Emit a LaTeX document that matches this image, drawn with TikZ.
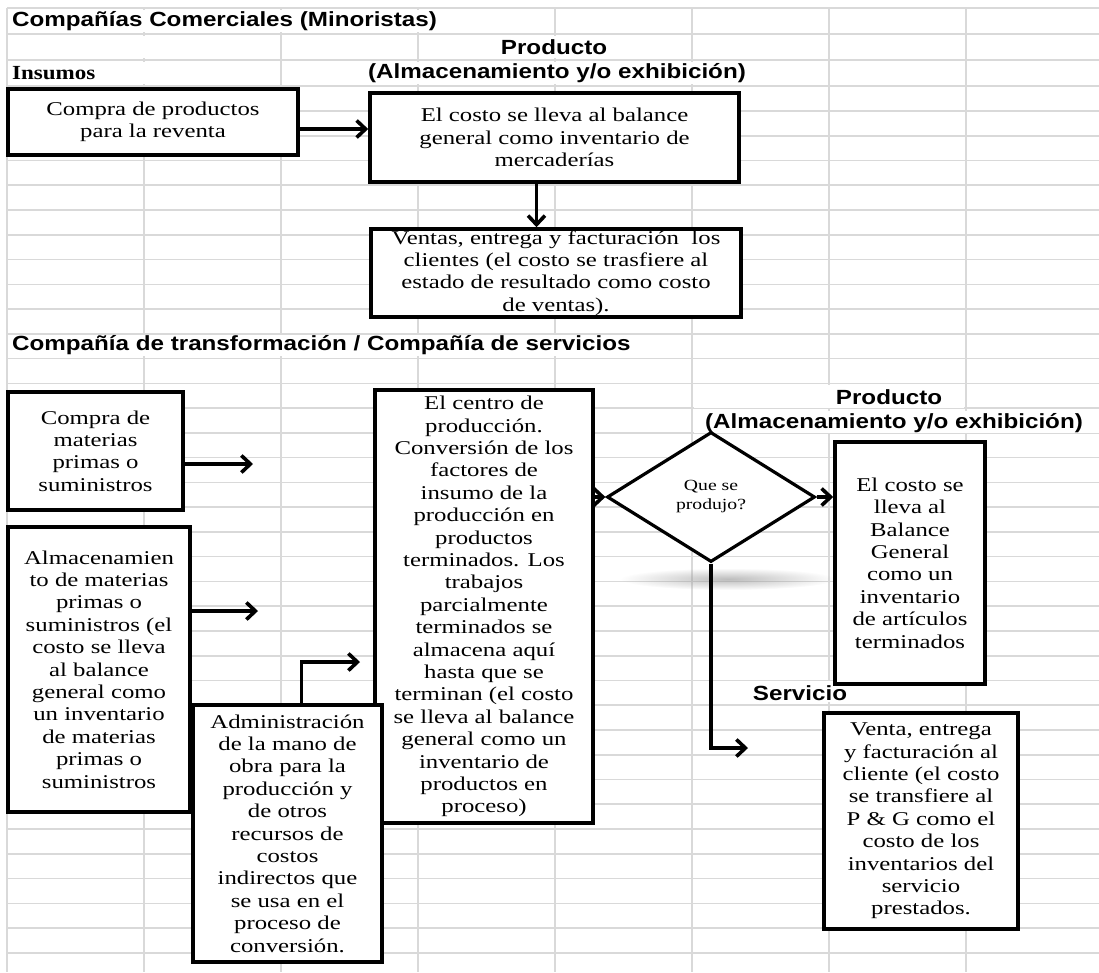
\documentclass[tikz,border=0pt]{standalone}
\usepackage{fontspec}
\setmainfont{Liberation Serif}[FakeStretch=1.27]
\newfontfamily\headfont{Liberation Sans}[FakeStretch=1.18]
\newfontfamily\labelfont{Liberation Serif}[FakeStretch=1.15]
\usetikzlibrary{arrows.meta,positioning,calc,shapes.geometric,fadings}
\tikzfading[name=softshadow, inner color=transparent!35, outer color=transparent!100]

\begin{document}
\begin{tikzpicture}[x=1pt, y=-1pt,
    cell/.style={gray!30, line width=1.6pt},
    mask/.style={white},
    box/.style={draw, line width=3.6pt, fill=white, align=center, inner sep=0pt,
        font=\fontsize{19.5}{22.4}\selectfont},
    head/.style={inner sep=0pt, font=\headfont\bfseries\fontsize{20.5}{24}\selectfont},
    arr/.style={line width=3.6pt, -{Straight Barb[length=9pt, width=17pt]}}]

    \useasboundingbox (0,0) rectangle (1099,972);

    % sheet grid
    \foreach \x in {7,144,...,966}
        \draw[cell] (\x,8) -- (\x,972);
    \foreach \y in {8,34,60,86}
        \draw[cell] (7,\y) -- (1099,\y);
    \foreach \k in {0,...,34}
        \draw[cell] (7,{111+24.76*\k}) -- (1099,{111+24.76*\k});

    % merged cells
    \fill[mask] (9,10) rectangle (553,32);
    \fill[mask] (9,36) rectangle (279,58);
    \fill[mask] (9,62) rectangle (279,84);
    \fill[mask] (420,36) rectangle (690,58);
    \fill[mask] (283,62) rectangle (827,84);
    \fill[mask] (9,335) rectangle (690,356);
    \fill[mask] (694,385) rectangle (964,408);
    \fill[mask] (694,411) rectangle (1099,433);
    \fill[mask] (694,681) rectangle (964,702);

    % headings
    \node[head, anchor=west] (title1) at (12,21) {Compañías Comerciales (Minoristas)};
    \node[head] (prod1) at (554,47) {Producto};
    \node[head] (store1) at (557,73) {(Almacenamiento y/o exhibición)};
    \node[anchor=west, inner sep=0pt, font=\labelfont\bfseries\fontsize{20}{22}\selectfont] (inputs) at (12,73) {Insumos};
    \node[head, anchor=west] (title2) at (12,345) {Compañía de transformación / Compañía de servicios};
    \node[head] (prod2) at (889,397) {Producto};
    \node[head] (store2) at (894,423) {(Almacenamiento y/o exhibición)};
    \node[head] (svc) at (800,693) {Servicio};

    % shadow under the decision
    \fill[black!40, path fading=softshadow] (728,579) ellipse (108 and 11);

    % retail flow
    \node[box, minimum width=290pt, minimum height=66pt] (buy) at (153,122)
        {Compra de productos\\para la reventa};
    \node[box, minimum width=369pt, minimum height=89pt] (inv) at (554.5,137.5)
        {El costo se lleva al balance\\general como inventario de\\mercaderías};
    \node[box, minimum width=370pt, minimum height=88pt] (sale) at (556,273)
        {Ventas, entrega y facturación\ \ los\\clientes (el costo se trasfiere al\\estado de resultado como costo\\de ventas).};

    \coordinate (buyout) at ([yshift=-7pt]buy.east);
    \draw[arr] (buyout) -- (buyout -| inv.west);
    \coordinate (invout) at ([xshift=-18pt]inv.south);
    \draw[arr] (invout) -- (invout |- sale.north);

    % manufacturing / service flow
    \node[box, minimum width=175pt, minimum height=118pt] (rawbuy) at (95.5,451)
        {Compra de\\materias\\primas o\\suministros};
    \node[box, minimum width=182pt, minimum height=285pt] (rawstore) at (99,669.5)
        {Almacenamien\\to de materias\\primas o\\suministros (el\\costo se lleva\\al balance\\general como\\un inventario\\de materias\\primas o\\suministros};
    \node[box, minimum width=218pt, minimum height=433pt] (plant) at (484,606.5)
        {El centro de\\producción.\\Conversión de los\\factores de\\insumo de la\\producción en\\productos\\terminados. Los\\trabajos\\parcialmente\\terminados se\\almacena aquí\\hasta que se\\terminan (el costo\\se lleva al balance\\general como un\\inventario de\\productos en\\proceso)};
    \node[box, minimum width=189pt, minimum height=257pt] (labor) at (287.5,833.5)
        {Administración\\de la mano de\\obra para la\\producción y\\de otros\\recursos de\\costos\\indirectos que\\se usa en el\\proceso de\\conversión.};
    \node[box, shape=diamond, minimum width=208pt, minimum height=130pt, line width=3.2pt,
        font=\fontsize{15.5}{19}\selectfont] (decide) at (711,497) {Que se\\produjo?};
    \node[box, minimum width=150pt, minimum height=242pt] (goods) at (910,563)
        {El costo se\\lleva al\\Balance\\General\\como un\\inventario\\de artículos\\terminados};
    \node[box, minimum width=194pt, minimum height=216pt] (service) at (921,821)
        {Venta, entrega\\y facturación al\\cliente (el costo\\se transfiere al\\P \& G como el\\costo de los\\inventarios del\\servicio\\prestados.};

    \coordinate (rawbuyend) at (253,464);
    \draw[arr] (rawbuyend -| rawbuy.east) -- (rawbuyend);
    \coordinate (rawstoreend) at (258,611);
    \draw[arr] (rawstoreend -| rawstore.east) -- (rawstoreend);
    \coordinate (laborout) at ([xshift=14pt]labor.north);
    \coordinate (laborend) at (360,662);
    \draw[arr] (laborout) |- (laborend);
    \draw[arr] (decide.west -| plant.east) -- (decide.west);
    \draw[arr] (decide.east) -- (decide.east -| goods.west);
    \coordinate (serviceend) at (748,748);
    \draw[arr] (decide.south) |- (serviceend);
\end{tikzpicture}
\end{document}
